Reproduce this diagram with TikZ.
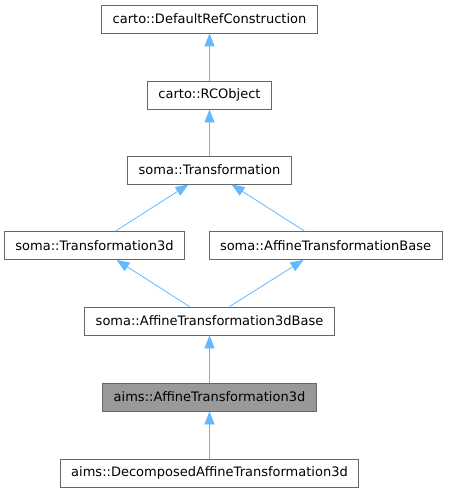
\documentclass[tikz,border=0pt]{standalone}
\usepackage{fontspec}
\setmainfont{DejaVu Sans}
\usetikzlibrary{arrows.meta}
\definecolor{edgeblue}{HTML}{63B8FF}
\definecolor{boxline}{HTML}{666666}
\definecolor{curfill}{HTML}{999999}
\tikzset{
  classbox/.style={draw=boxline, line width=0.8pt, fill=white, minimum height=28pt,
    inner xsep=11pt, inner ysep=0pt, font=\fontsize{13}{15}\selectfont},
  curbox/.style={classbox, fill=curfill},
  inherit/.style={draw=edgeblue, line width=0.8pt, -{Triangle[length=13pt,width=10pt]}}
}
\begin{document}
\begin{tikzpicture}[x=1pt, y=-1pt]
    \useasboundingbox (0,0) rectangle (448,492);
    \node[classbox] (refcons) at (209.5,19) {carto::DefaultRefConstruction};
    \node[classbox] (rcobj) at (209.5,95) {carto::RCObject};
    \node[classbox] (trans) at (209.5,170) {soma::Transformation};
    \node[classbox] (trans3d) at (94.5,245.5) {soma::Transformation3d};
    \node[classbox] (affbase) at (325.5,245.5) {soma::AffineTransformationBase};
    \node[classbox] (aff3dbase) at (209.5,321) {soma::AffineTransformation3dBase};
    \node[curbox] (aff3d) at (209.5,397) {aims::AffineTransformation3d};
    \node[classbox] (decomp) at (209.5,473) {aims::DecomposedAffineTransformation3d};

    \draw[inherit] (rcobj) -- (refcons);
    \draw[inherit] (trans) -- (rcobj);
    \draw[inherit] ([xshift=21pt]trans3d.north) -- ([xshift=-21pt]trans.south);
    \draw[inherit] ([xshift=-21pt]affbase.north) -- ([xshift=22pt]trans.south);
    \draw[inherit] ([xshift=-20pt]aff3dbase.north) -- ([xshift=22pt]trans3d.south);
    \draw[inherit] ([xshift=20pt]aff3dbase.north) -- ([xshift=-22pt]affbase.south);
    \draw[inherit] (aff3d) -- (aff3dbase);
    \draw[inherit] (decomp) -- (aff3d);
\end{tikzpicture}
\end{document}
